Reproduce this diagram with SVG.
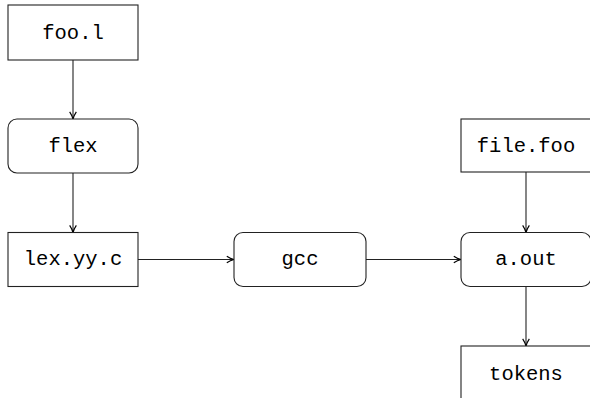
<svg xmlns="http://www.w3.org/2000/svg" width="590" height="398" viewBox="0 0 590 398">
  <defs>
    <marker id="arrow" viewBox="0 0 10 10" refX="9" refY="5" markerWidth="9" markerHeight="9" markerUnits="userSpaceOnUse" orient="auto">
      <path d="M1,1.3 Q5,4 9,5 Q5,6 1,8.7" fill="none" stroke="#000" stroke-width="1.3"/>
    </marker>
  </defs>
  <style>
    .box { fill: #fff; stroke: #222; stroke-width: 1.1; }
    .label { font-family: "Liberation Mono", "DejaVu Sans Mono", monospace; font-size: 20.5px; fill: #000; text-anchor: middle; dominant-baseline: central; }
    .edge { stroke: #222; stroke-width: 1.1; fill: none; marker-end: url(#arrow); }
  </style>
  <rect width="590" height="398" fill="#fff"/>

  <g id="connectors">
    <line class="edge" x1="73" y1="60" x2="73" y2="119"/>
    <line class="edge" x1="73" y1="173" x2="73" y2="232.5"/>
    <line class="edge" x1="138" y1="259.5" x2="234" y2="259.5"/>
    <line class="edge" x1="366" y1="259.5" x2="461" y2="259.5"/>
    <line class="edge" x1="526" y1="172" x2="526" y2="232.5"/>
    <line class="edge" x1="526" y1="286" x2="526" y2="346"/>
  </g>

  <g id="foo-l">
    <rect class="box" x="8" y="5" width="130" height="55"/>
    <text class="label" x="73" y="33">foo.l</text>
  </g>
  <g id="flex">
    <rect class="box" x="8" y="119" width="130" height="54" rx="9"/>
    <text class="label" x="73" y="146">flex</text>
  </g>
  <g id="lex-yy-c">
    <rect class="box" x="8" y="232.5" width="130" height="54"/>
    <text class="label" x="73" y="259.5">lex.yy.c</text>
  </g>
  <g id="gcc">
    <rect class="box" x="234" y="232.5" width="132" height="54" rx="9"/>
    <text class="label" x="300" y="259.5">gcc</text>
  </g>
  <g id="file-foo">
    <rect class="box" x="461" y="119" width="130" height="53"/>
    <text class="label" x="526" y="146">file.foo</text>
  </g>
  <g id="a-out">
    <rect class="box" x="461" y="232.5" width="130" height="54" rx="9"/>
    <text class="label" x="526" y="259.5">a.out</text>
  </g>
  <g id="tokens">
    <rect class="box" x="461" y="346" width="130" height="55"/>
    <text class="label" x="526" y="374">tokens</text>
  </g>
</svg>
